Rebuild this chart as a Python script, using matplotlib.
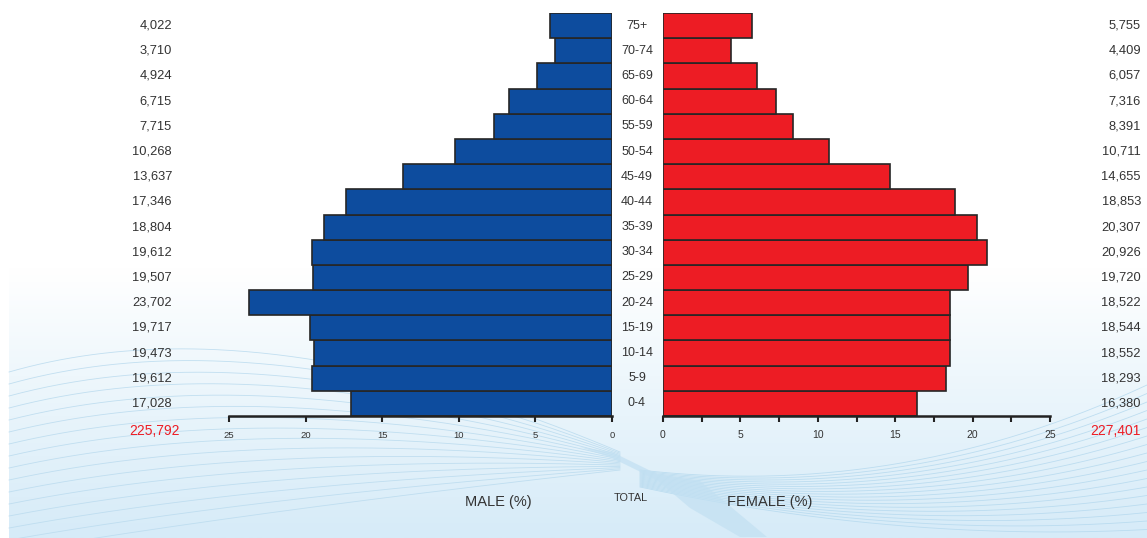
import numpy as np
import matplotlib.pyplot as plt
from matplotlib.colors import LinearSegmentedColormap

plt.rcParams['font.family'] = ['Liberation Sans', 'DejaVu Sans']

ages = ['0-4', '5-9', '10-14', '15-19', '20-24', '25-29', '30-34', '35-39',
        '40-44', '45-49', '50-54', '55-59', '60-64', '65-69', '70-74', '75+']
male = [17028, 19612, 19473, 19717, 23702, 19507, 19612, 18804,
        17346, 13637, 10268, 7715, 6715, 4924, 3710, 4022]
female = [16380, 18293, 18552, 18544, 18522, 19720, 20926, 20307,
          18853, 14655, 10711, 8391, 7316, 6057, 4409, 5755]
male_total = '225,792'
female_total = '227,401'

W, H = 1147, 538
fig = plt.figure(figsize=(W / 100, H / 100), dpi=100)

# background: white fading to light blue, with thin swoosh lines
bg = fig.add_axes([0, 0, 1, 1])
bg.set_xlim(0, W)
bg.set_ylim(H, 0)
bg.axis('off')
cmap = LinearSegmentedColormap.from_list(
    'bg', [(0, '#ffffff'), (0.5, '#ffffff'), (0.7, '#eef7fc'), (1, '#d6ebf8')])
grad = np.linspace(0, 1, 256).reshape(-1, 1)
bg.imshow(grad, cmap=cmap, extent=[9, W, H, 0], aspect='auto', zorder=0)


def bez(p0, p1, p2, n=200):
    t = np.linspace(0, 1, n)[:, None]
    pts = (1 - t) ** 2 * np.array(p0) + 2 * (1 - t) * t * np.array(p1) + t ** 2 * np.array(p2)
    return pts[:, 0], pts[:, 1]


# left fan of arcs
for k in range(16):
    yl = 372 + k * 12
    yc = 300 + k * 14
    bx, by = bez((9, yl), (260, yc), (620, 452 + k * 1.2))
    bg.plot(bx, by, color='#bcdcef', lw=0.6, alpha=0.9, zorder=1)

# right fan of arcs
for k in range(18):
    yr = 385 + k * 8.5
    yc = 500 + k * 2.5
    bx, by = bez((640, 470 + k * 1.0), (900, yc), (W, yr))
    bg.plot(bx, by, color='#b3d8ee', lw=0.6, alpha=0.8, zorder=1)

# central ribbon
rx = np.array([580, 612, 657, 700, 767, 740, 690, 657, 612])
ry = np.array([447, 452, 474, 481, 537, 537, 508, 480, 458])
bg.fill(rx, ry, color='#c2e0f2', alpha=0.7, lw=0, zorder=1)

bot = 1 - 416 / H
top = 1 - 13 / H
axm = fig.add_axes([229 / W, bot, (612 - 229) / W, top - bot])
axf = fig.add_axes([663 / W, bot, (1050 - 663) / W, top - bot])
y = np.arange(len(ages))

axm.barh(y, np.array(male) / 1000, height=1.0, color='#0d4c9e', edgecolor='#262626', lw=1.2)
axf.barh(y, np.array(female) / 1000, height=1.0, color='#ed1c24', edgecolor='#262626', lw=1.2)

for ax in (axm, axf):
    ax.set_facecolor('none')
    ax.set_ylim(-0.5, len(ages) - 0.5)
    ax.set_yticks([])
    for s in ('top', 'left', 'right'):
        ax.spines[s].set_visible(False)
    ax.spines['bottom'].set_linewidth(1.8)
    ax.spines['bottom'].set_color('#222222')
    ax.tick_params(axis='x', length=4, width=1.5, color='#222222',
                   labelcolor='#333333', pad=7)

axm.set_xlim(25, 0)
axm.set_xticks([25, 20, 15, 10, 5, 0])
axm.tick_params(axis='x', labelsize=6.8)
axf.set_xlim(0, 25)
axf.set_xticks(np.arange(0, 25.1, 2.5))
axf.set_xticklabels(['0', '', '5', '', '10', '', '15', '', '20', '', '25'])
axf.tick_params(axis='x', labelsize=7.5, pad=6)

# age labels and per-group counts
for i, a in enumerate(ages):
    yy = 416 - (i + 0.5) * (403 / 16)
    fig.text(637 / W, 1 - yy / H, a, ha='center', va='center', fontsize=9, color='#333333')
    fig.text(172 / W, 1 - yy / H, f'{male[i]:,}', ha='right', va='center', fontsize=9.3, color='#333333')
    fig.text(1141 / W, 1 - yy / H, f'{female[i]:,}', ha='right', va='center', fontsize=9.3, color='#333333')

fig.text(180 / W, 1 - 431 / H, male_total, ha='right', va='center', fontsize=10, color='#ed1c24')
fig.text(1141 / W, 1 - 431 / H, female_total, ha='right', va='center', fontsize=10, color='#ed1c24')

fig.text(498 / W, 1 - 502 / H, 'MALE (%)', ha='center', va='center', fontsize=10.5, color='#333333')
fig.text(631 / W, 1 - 498 / H, 'TOTAL', ha='center', va='center', fontsize=7.8, color='#333333')
fig.text(770 / W, 1 - 502 / H, 'FEMALE (%)', ha='center', va='center', fontsize=10.5, color='#333333')

fig.savefig('out.png', dpi=100)
